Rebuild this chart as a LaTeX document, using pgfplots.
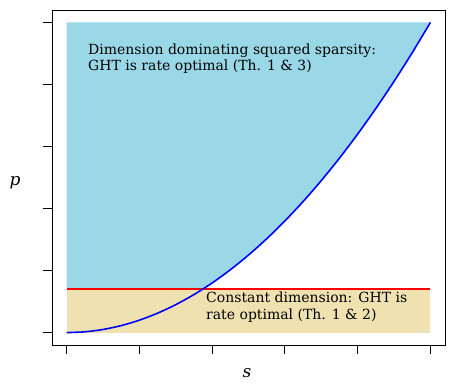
\documentclass[border=0pt]{standalone}
\usepackage{fontspec}
\setmainfont{DejaVu Serif}
\usepackage{pgfplots}
\pgfplotsset{compat=1.18}
\definecolor{regionBlue}{RGB}{154,216,232}
\definecolor{regionTan}{RGB}{239,226,176}
\definecolor{lineRed}{RGB}{255,0,0}
\definecolor{lineBlue}{RGB}{0,0,255}
\begin{document}
\begin{tikzpicture}
\path[use as bounding box] (-52pt,-41pt) rectangle (423pt,345pt);
\begin{axis}[
    at={(0pt,0pt)}, anchor=south west,
    scale only axis,
    width=393pt, height=335pt,
    xmin=-0.2, xmax=5.2,
    ymin=-0.2, ymax=5.2,
    xtick={0,1,2,3,4,5}, ytick={0,1,2,3,4,5},
    xticklabels={}, yticklabels={},
    xtick pos=left, ytick pos=left,
    tick align=outside,
    major tick length=9pt,
    every tick/.style={black, line width=0.8pt},
    axis line style={line width=0.8pt},
    clip=false,
]
% lower region: constant dimension
\addplot[fill=regionTan, draw=none] coordinates {
    (0,0) (5,0) (5,0.7) (0,0.7)
} -- cycle;
% upper region: above the threshold and above p = s^2/5
\addplot[fill=regionBlue, draw=none] coordinates {
    (0,0.7) (0,5) (5,5) (4.75,4.5125) (4.5,4.05) (4.25,3.6125) (4,3.2)
    (3.75,2.8125) (3.5,2.45) (3.25,2.1125) (3,1.8) (2.75,1.5125)
    (2.5,1.25) (2.25,1.0125) (2,0.8) (1.8708,0.7)
} -- cycle;
% threshold
\addplot[draw=lineRed, line width=1.6pt, mark=none] coordinates {(0,0.7) (5,0.7)};
% boundary curve
\addplot[draw=lineBlue, line width=1.6pt, mark=none, smooth] coordinates {
    (0,0) (0.25,0.0125) (0.5,0.05) (0.75,0.1125) (1,0.2) (1.25,0.3125)
    (1.5,0.45) (1.75,0.6125) (2,0.8) (2.25,1.0125) (2.5,1.25)
    (2.75,1.5125) (3,1.8) (3.25,2.1125) (3.5,2.45) (3.75,2.8125)
    (4,3.2) (4.25,3.6125) (4.5,4.05) (4.75,4.5125) (5,5)
};
\end{axis}
\node[anchor=base west, font=\fontsize{14}{16.8}\selectfont, align=left, inner sep=0pt]
    at (36pt,274pt) {Dimension dominating squared sparsity:\\GHT is rate optimal (Th. 1 \& 3)};
\node[anchor=base west, font=\fontsize{14}{17.5}\selectfont, align=left, inner sep=0pt]
    at (154pt,25pt) {Constant dimension: GHT is\\rate optimal (Th. 1 \& 2)};
\node[font=\fontsize{17}{20}\selectfont\itshape] at (-37pt,162pt) {p};
\node[font=\fontsize{17}{20}\selectfont\itshape] at (195pt,-28pt) {s};
\end{tikzpicture}
\end{document}
